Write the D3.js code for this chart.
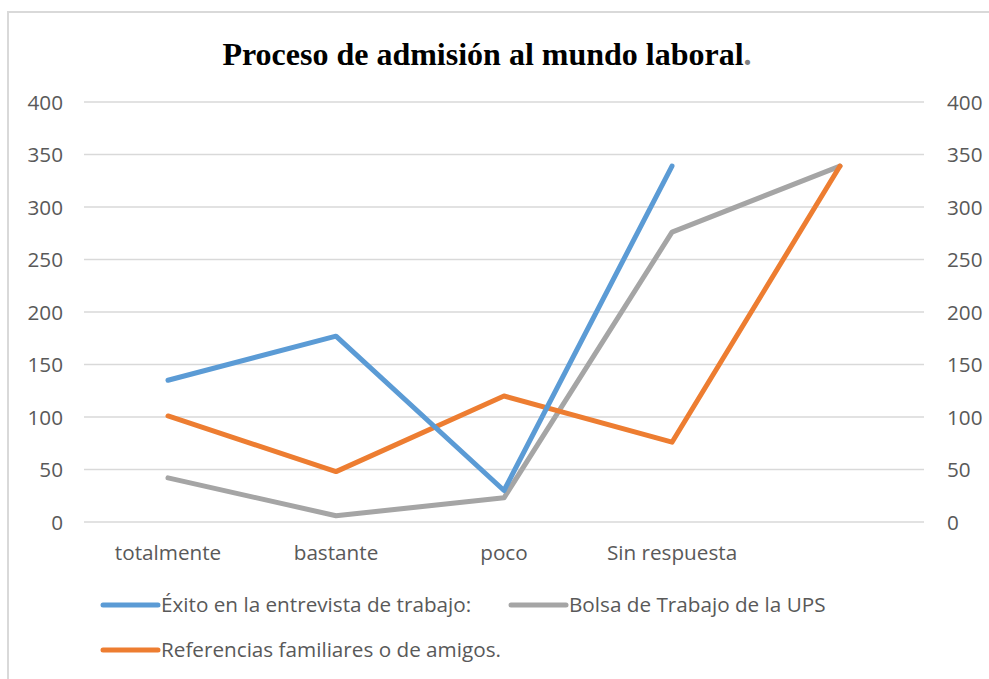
<!DOCTYPE html>
<html><head><meta charset="utf-8">
<script src="https://cdn.jsdelivr.net/npm/d3@7"></script>
<style>body{margin:0;background:#fff}</style>
</head><body>
<svg id="c" width="989" height="679"></svg>
<script>
const categories = ["totalmente", "bastante", "poco", "Sin respuesta", ""];
const exito = [135, 177, 30, 339, null];
const bolsa = [42, 6, 23, 276, 339];
const referencias = [101, 48, 120, 76, 339];
const yTicks = [0, 50, 100, 150, 200, 250, 300, 350, 400];
const seriesNames = ["Éxito en la entrevista de trabajo:", "Bolsa de Trabajo de la UPS", "Referencias familiares o de amigos."];
const seriesColors = ["#5B9BD5", "#A5A5A5", "#ED7D31"];

(function () {
const svg = d3.select("#c");
const font = "'Open Sans', sans-serif";
const fs = "20.7px";
svg.append("rect").attr("x", 8).attr("y", 12).attr("width", 990).attr("height", 690)
  .attr("fill", "none").attr("stroke", "#D9D9D9").attr("stroke-width", 2);

const pl = 84, pr = 924, pt = 102, pb = 522;
const x = d3.scaleBand().domain(categories.map((c, i) => i)).range([pl, pr]);
const y = d3.scaleLinear().domain([0, 400]).range([pb, pt]);

svg.append("g").selectAll("line").data(yTicks).join("line")
  .attr("x1", pl).attr("x2", pr).attr("y1", d => y(d)).attr("y2", d => y(d))
  .attr("stroke", "#D9D9D9").attr("stroke-width", 1.3);

const la = svg.append("g").attr("transform", `translate(${pl - 21},0)`)
  .call(d3.axisLeft(y).tickValues(yTicks).tickSize(0).tickPadding(0));
const ra = svg.append("g").attr("transform", `translate(${pr + 23},0)`)
  .call(d3.axisRight(y).tickValues(yTicks).tickSize(0).tickPadding(0));
[la, ra].forEach(a => {
  a.select(".domain").remove();
  a.selectAll("text").attr("fill", "#595959").style("font-family", font).style("font-size", fs).attr("dy", "0.34em");
});

const xa = svg.append("g").attr("transform", `translate(0,${pb + 38})`)
  .call(d3.axisBottom(x).tickFormat(i => categories[i]).tickSize(0).tickPadding(0));
xa.select(".domain").remove();
xa.selectAll("text").attr("fill", "#595959").style("font-family", font).style("font-size", fs).attr("dy", "0");

const cx = i => x(i) + x.bandwidth() / 2;
const line = d3.line().defined(d => d != null).x((d, i) => cx(i)).y(d => y(d));
[[bolsa, 1], [referencias, 2], [exito, 0]].forEach(([s, idx]) => {
  svg.append("path").datum(s).attr("d", line).attr("fill", "none")
    .attr("stroke", seriesColors[idx]).attr("stroke-width", 5)
    .attr("stroke-linejoin", "round").attr("stroke-linecap", "round");
});

svg.append("text").attr("x", 487).attr("y", 65).attr("text-anchor", "middle")
  .style("font-family", "'Liberation Serif', 'Times New Roman', serif").style("font-weight", "bold").style("font-size", "32px")
  .attr("fill", "#000").text("Proceso de admisión al mundo laboral")
  .append("tspan").attr("fill", "#7F7F7F").text(".");

const leg = [{x: 103, y: 605}, {x: 511, y: 605}, {x: 103, y: 650}];
leg.forEach((p, i) => {
  svg.append("line").attr("x1", p.x).attr("x2", p.x + 55).attr("y1", p.y).attr("y2", p.y)
    .attr("stroke", seriesColors[i]).attr("stroke-width", 5).attr("stroke-linecap", "round");
  svg.append("text").attr("x", p.x + 58).attr("y", p.y).attr("dy", "0.36em")
    .attr("fill", "#595959").style("font-family", font).style("font-size", fs).text(seriesNames[i]);
});
})();
</script>
</body></html>
